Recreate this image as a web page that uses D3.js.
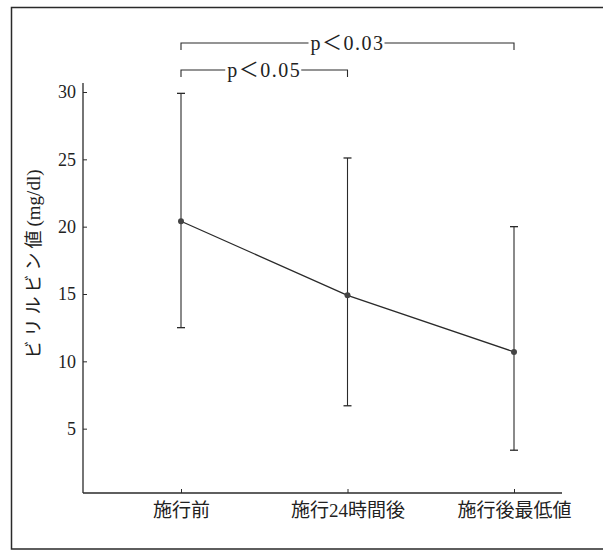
<!DOCTYPE html>
<html>
<head>
<meta charset="utf-8">
<script src="https://cdn.jsdelivr.net/npm/d3@7"></script>
<style>
  body { margin: 0; background: #fff; }
  text { font-family: "Liberation Serif", "Noto Sans CJK JP", serif; fill: #222; }
</style>
</head>
<body>
<svg id="chart" width="603" height="553"></svg>
<script>
// values
var categories = ["施行前", "施行24時間後", "施行後最低値"];
var means = [20.4, 14.9, 10.7];
var upper = [29.9, 25.1, 20.0];
var lower = [12.5, 6.7, 3.4];
var yTicks = [5, 10, 15, 20, 25, 30];
var comparisons = [
    { from: 0, to: 1, label: "p＜0.05" },
    { from: 0, to: 2, label: "p＜0.03" }
];

function drawChart() {
    var svg = d3.select("#chart");
    var ink = "#2a2a2a";

    // outer frame (right edge runs off the page)
    svg.append("path")
        .attr("d", "M610,7.5H11.5V549H610")
        .attr("fill", "none")
        .attr("stroke", ink)
        .attr("stroke-width", 1.5);

    // plot area
    var pLeft = 83, pRight = 562, pTop = 83, pBottom = 493;

    var x = d3.scalePoint()
        .domain(categories)
        .range([181, 514]);

    var y = d3.scaleLinear()
        .domain([0, 30])
        .range([496, 92]);

    // y axis
    var yAxis = d3.axisLeft(y)
        .tickValues(yTicks)
        .tickSize(-4)
        .tickSizeOuter(0)
        .tickPadding(7);

    var gy = svg.append("g")
        .attr("transform", "translate(" + pLeft + ",0)")
        .call(yAxis);
    gy.select(".domain").remove();
    gy.selectAll("line").attr("stroke", ink);
    gy.selectAll("text")
        .style("font-size", "18px")
        .style("font-family", "Liberation Serif, serif")
        .attr("fill", ink);

    // x axis
    var xAxis = d3.axisBottom(x)
        .tickSize(-4)
        .tickSizeOuter(0)
        .tickPadding(11);

    var gx = svg.append("g")
        .attr("transform", "translate(0," + pBottom + ")")
        .call(xAxis);
    gx.select(".domain").remove();
    gx.selectAll("line").attr("stroke", ink);
    gx.selectAll("text")
        .style("font-size", "19px")
        .attr("fill", ink);

    // axis lines
    svg.append("line")
        .attr("x1", pLeft).attr("x2", pLeft)
        .attr("y1", pTop).attr("y2", pBottom)
        .attr("stroke", ink).attr("stroke-width", 1.3);
    svg.append("line")
        .attr("x1", pLeft).attr("x2", pRight)
        .attr("y1", pBottom).attr("y2", pBottom)
        .attr("stroke", ink).attr("stroke-width", 1.3);

    // y label
    var ylab = svg.append("text")
        .attr("transform", "translate(40,264) rotate(-90)")
        .attr("text-anchor", "middle")
        .style("font-size", "18px")
        .attr("fill", ink);
    ylab.append("tspan").style("letter-spacing", "4px").text("ビリルビン値");
    ylab.append("tspan").style("font-size", "19px").text("(mg/dl)");

    // error bars
    var capW = 4;
    var bars = svg.append("g").selectAll("g")
        .data(categories)
        .enter().append("g");

    bars.append("line")
        .attr("x1", function (d) { return x(d); })
        .attr("x2", function (d) { return x(d); })
        .attr("y1", function (d, i) { return y(upper[i]); })
        .attr("y2", function (d, i) { return y(lower[i]); })
        .attr("stroke", ink).attr("stroke-width", 1.1);

    bars.append("line")
        .attr("x1", function (d) { return x(d) - capW; })
        .attr("x2", function (d) { return x(d) + capW; })
        .attr("y1", function (d, i) { return y(upper[i]); })
        .attr("y2", function (d, i) { return y(upper[i]); })
        .attr("stroke", ink).attr("stroke-width", 1.3);

    bars.append("line")
        .attr("x1", function (d) { return x(d) - capW; })
        .attr("x2", function (d) { return x(d) + capW; })
        .attr("y1", function (d, i) { return y(lower[i]); })
        .attr("y2", function (d, i) { return y(lower[i]); })
        .attr("stroke", ink).attr("stroke-width", 1.3);

    // mean line
    var line = d3.line()
        .x(function (d, i) { return x(categories[i]); })
        .y(function (d) { return y(d); });

    svg.append("path")
        .datum(means)
        .attr("d", line)
        .attr("fill", "none")
        .attr("stroke", ink)
        .attr("stroke-width", 1.3);

    svg.append("g").selectAll("circle")
        .data(means)
        .enter().append("circle")
        .attr("cx", function (d, i) { return x(categories[i]); })
        .attr("cy", function (d) { return y(d); })
        .attr("r", 3)
        .attr("fill", "#444");

    // significance brackets
    var bracketY = [70, 43];
    var drop = 7;
    comparisons.forEach(function (c, k) {
        var x1 = x(categories[c.from]);
        var x2 = x(categories[c.to]);
        var by = bracketY[k];
        svg.append("path")
            .attr("d", "M" + x1 + "," + (by + drop) + "V" + by + "H" + x2 + "V" + (by + drop))
            .attr("fill", "none")
            .attr("stroke", ink)
            .attr("stroke-width", 1.1);
        var bg = svg.append("rect").attr("fill", "#fff");
        var t = svg.append("text")
            .attr("x", (x1 + x2) / 2)
            .attr("y", by + 7)
            .attr("text-anchor", "middle")
            .style("font-size", "20px")
            .style("letter-spacing", "1.5px")
            .attr("fill", ink)
            .text(c.label);
        var bb = t.node().getBBox();
        bg.attr("x", bb.x - 2).attr("y", bb.y)
            .attr("width", bb.width + 2).attr("height", bb.height);
    });
}

drawChart();
</script>
</body>
</html>
